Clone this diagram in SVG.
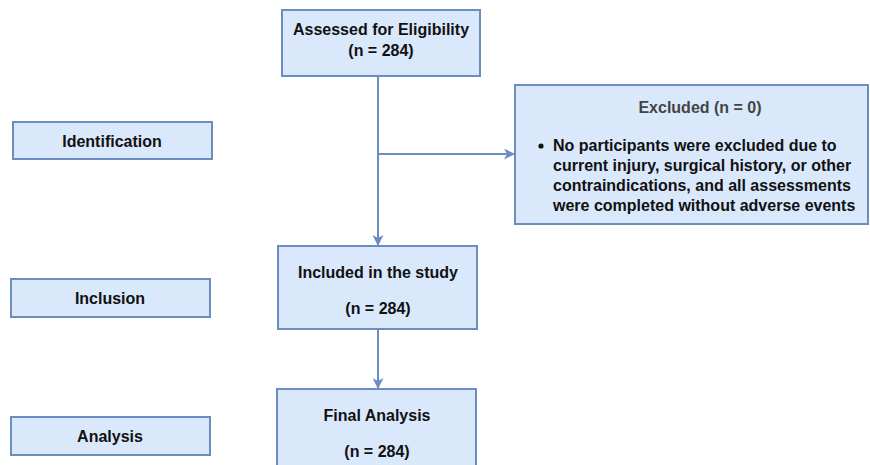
<svg xmlns="http://www.w3.org/2000/svg" width="870" height="465" viewBox="0 0 870 465">
<style>
.box{fill:#dae8fc;stroke:#6c8ebf;stroke-width:2}
.t{font-family:"Liberation Sans",Arial,sans-serif;font-size:16px;font-weight:bold;fill:#111;text-anchor:middle}
.l{font-family:"Liberation Sans",Arial,sans-serif;font-size:16px;font-weight:bold;fill:#111}
.c{fill:none;stroke:#6c8ebf;stroke-width:2}
</style>
<defs>
<marker id="ah" markerWidth="11" markerHeight="11" refX="10" refY="5.5" orient="auto" markerUnits="userSpaceOnUse">
<path d="M0,0 L11,5.5 L0,11 L3,5.5 Z" fill="#6c8ebf"/>
</marker>
</defs>
<rect width="870" height="465" fill="#fff"/>
<g id="connectors">
<line class="c" x1="378" y1="76" x2="378" y2="245" marker-end="url(#ah)"/>
<line class="c" x1="378" y1="154" x2="514" y2="154" marker-end="url(#ah)"/>
<line class="c" x1="378" y1="329" x2="378" y2="388" marker-end="url(#ah)"/>
</g>
<g id="assessed">
<rect class="box" x="282" y="10" width="198" height="66"/>
<text class="t" x="381" y="35">Assessed for Eligibility</text>
<text class="t" x="381" y="56">(n = 284)</text>
</g>
<g id="excluded">
<rect class="box" x="515" y="85" width="353" height="139"/>
<text class="t" x="700" y="113" style="fill:#444">Excluded (n = 0)</text>
<circle cx="541" cy="146" r="2.6" fill="#111"/>
<text class="l" x="553" y="151">No participants were excluded due to</text>
<text class="l" x="553" y="171">current injury, surgical history, or other</text>
<text class="l" x="553" y="191">contraindications, and all assessments</text>
<text class="l" x="553" y="211">were completed without adverse events</text>
</g>
<g id="identification">
<rect class="box" x="13" y="122" width="199" height="37"/>
<text class="t" x="112" y="147">Identification</text>
</g>
<g id="included">
<rect class="box" x="278" y="246" width="199" height="83"/>
<text class="t" x="378" y="278">Included in the study</text>
<text class="t" x="378" y="314">(n = 284)</text>
</g>
<g id="inclusion">
<rect class="box" x="11" y="279" width="199" height="38"/>
<text class="t" x="110" y="304">Inclusion</text>
</g>
<g id="final">
<rect class="box" x="277" y="389" width="199" height="85"/>
<text class="t" x="377" y="421">Final Analysis</text>
<text class="t" x="377" y="457">(n = 284)</text>
</g>
<g id="analysis">
<rect class="box" x="11" y="417" width="199" height="38"/>
<text class="t" x="110" y="442">Analysis</text>
</g>
</svg>
